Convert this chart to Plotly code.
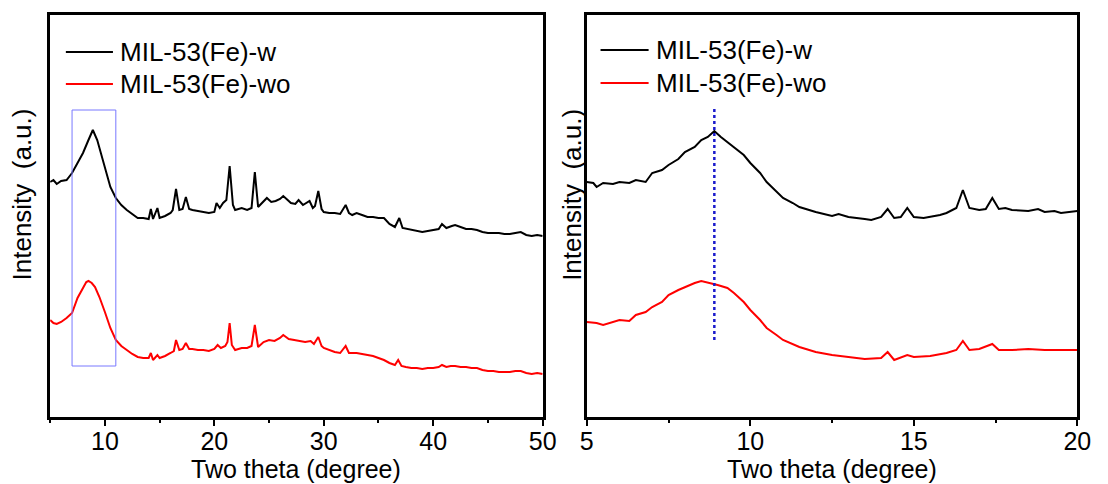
import plotly.graph_objects as go

# ---------------- data ----------------
# Left panel: full range 5-50 degrees
left_x_w = [5.0, 5.3, 5.6, 6.0, 6.5, 7.0, 7.5, 8.0, 8.5, 8.9, 9.3, 9.7, 10.0, 10.5, 11.0, 11.5, 12.0, 12.5,
            13.0, 13.5, 14.0, 14.2, 14.4, 14.8, 15.0, 15.5, 16.0, 16.2, 16.5, 16.8, 17.1, 17.4, 17.7, 18.0,
            18.5, 19.0, 19.5, 20.0, 20.2, 20.5, 20.8, 21.1, 21.4, 21.7, 21.9, 22.5, 23.0, 23.4, 23.7, 24.0,
            24.4, 24.8, 25.2, 25.6, 26.0, 26.3, 26.7, 27.0, 27.4, 27.7, 28.1, 28.4, 28.7, 29.0, 29.2, 29.5,
            29.8, 30.0, 30.5, 31.0, 31.5, 32.0, 32.3, 32.6, 33.0, 33.5, 34.0, 34.5, 35.0, 35.5, 36.0, 36.5,
            36.9, 37.2, 37.6, 38.0, 38.5, 39.0, 39.5, 40.0, 40.5, 40.8, 41.2, 41.7, 42.0, 42.5, 43.0, 43.5,
            44.0, 44.5, 45.0, 45.5, 46.0, 46.5, 47.0, 47.5, 48.0, 48.5, 49.0, 49.5, 50.0]
left_y_w = [235, 237, 233, 236, 237, 244, 254, 264, 277, 287, 277, 262, 250, 230, 219, 212, 207, 203,
            199, 199, 198, 208, 198, 209, 199, 201, 204, 207, 228, 207, 208, 220, 208, 207,
            206, 205, 204, 205, 214, 209, 214, 217, 251, 212, 207, 209, 207, 209, 245, 210,
            215, 219, 215, 216, 218, 221, 217, 214, 213, 217, 212, 214, 216, 209, 211, 226,
            208, 205, 204, 204, 203, 212, 204, 202, 204, 202, 200, 200, 199, 199, 193, 190,
            199, 189, 188, 187, 186, 185, 186, 187, 188, 193, 189, 191, 192, 190, 188, 188,
            187, 185, 184, 184, 184, 183, 183, 184, 185, 182, 181, 182, 181]

left_x_wo = [5.0, 5.3, 5.6, 6.0, 6.5, 7.0, 7.5, 8.0, 8.3, 8.5, 8.8, 9.1, 9.5, 10.0, 10.5, 11.0, 11.5, 12.0,
             12.5, 13.0, 13.5, 14.0, 14.2, 14.4, 14.8, 15.0, 15.5, 16.0, 16.3, 16.5, 16.8, 17.1, 17.4, 17.7,
             18.0, 18.5, 19.0, 19.5, 20.0, 20.3, 20.6, 21.0, 21.2, 21.4, 21.6, 21.9, 22.5, 23.0, 23.4, 23.7,
             24.0, 24.5, 25.0, 25.5, 26.0, 26.3, 26.8, 27.3, 27.8, 28.3, 28.8, 29.1, 29.5, 29.8, 30.0, 30.5,
             31.0, 31.5, 32.0, 32.3, 32.6, 33.0, 33.5, 34.0, 34.5, 35.0, 35.5, 36.0, 36.5, 36.8, 37.1, 37.5,
             38.0, 38.5, 39.0, 39.5, 40.0, 40.5, 40.8, 41.2, 41.6, 42.0, 42.5, 43.0, 43.5, 44.0, 44.5, 45.0,
             45.5, 46.0, 46.5, 47.0, 47.5, 48.0, 48.5, 49.0, 49.5, 50.0]
left_y_wo = [97, 94, 93, 95, 99, 104, 119, 130, 135, 136, 134, 130, 120, 105, 89, 77, 71, 67,
             63, 60, 59, 59, 64, 57, 62, 59, 61, 64, 66, 77, 67, 68, 74, 68,
             68, 67, 67, 66, 68, 72, 69, 71, 75, 94, 72, 67, 69, 69, 71, 92,
             70, 75, 77, 76, 79, 82, 78, 77, 76, 75, 76, 73, 80, 71, 69, 67,
             65, 64, 71, 64, 64, 64, 63, 62, 61, 59, 57, 54, 52, 57, 51, 50,
             49, 49, 48, 49, 49, 50, 52, 50, 51, 51, 50, 50, 49, 49, 47, 46,
             46, 45, 45, 45, 46, 46, 44, 43, 44, 43]

# Right panel: zoom 5-20 degrees
right_x_w = [5.0, 5.2, 5.3, 5.5, 5.8, 6.0, 6.3, 6.5, 6.8, 7.0, 7.3, 7.5, 7.8, 8.0, 8.3, 8.5, 8.7, 8.9,
             9.1, 9.3, 9.5, 9.8, 10.0, 10.3, 10.5, 10.8, 11.0, 11.3, 11.5, 12.0, 12.5, 12.7, 13.0, 13.5,
             13.7, 14.0, 14.2, 14.4, 14.6, 14.8, 15.0, 15.3, 15.5, 15.8, 16.0, 16.3, 16.5, 16.7, 17.0, 17.2,
             17.4, 17.6, 17.8, 18.0, 18.5, 18.8, 19.0, 19.3, 19.5, 19.8, 20.0]
right_y_w = [235, 234, 230, 234, 233, 235, 234, 237, 235, 244, 247, 252, 258, 265, 270, 277, 280, 286,
             280, 275, 270, 262, 254, 244, 235, 225, 219, 214, 210, 205, 201, 203, 200, 198,
             197, 200, 208, 199, 200, 209, 200, 199, 200, 202, 204, 209, 227, 209, 207, 208,
             219, 208, 209, 207, 206, 208, 205, 206, 204, 205, 206]

right_x_wo = [5.0, 5.3, 5.5, 5.8, 6.0, 6.3, 6.5, 6.8, 7.0, 7.3, 7.5, 7.8, 8.0, 8.3, 8.5, 8.8, 9.0, 9.3,
              9.5, 9.8, 10.0, 10.3, 10.5, 10.8, 11.0, 11.5, 12.0, 12.5, 13.0, 13.5, 14.0, 14.2, 14.4, 14.8,
              15.0, 15.5, 16.0, 16.3, 16.5, 16.7, 17.0, 17.4, 17.6, 18.0, 18.5, 19.0, 19.5, 20.0]
right_y_wo = [95, 94, 92, 95, 97, 96, 102, 105, 110, 115, 122, 127, 130, 134, 136, 134, 132, 129,
              124, 115, 107, 97, 89, 82, 77, 70, 65, 62, 60, 58, 59, 65, 57, 62,
              60, 61, 64, 67, 76, 67, 68, 73, 67, 67, 68, 67, 67, 67]

series_names = ["MIL-53(Fe)-w", "MIL-53(Fe)-wo"]
series_colors = ["#000000", "#ff0000"]

left_ticks = [10, 20, 30, 40, 50]
right_ticks = [5, 10, 15, 20]

# highlight box (left) and peak marker (right)
box_x = [7.0, 11.0]
box_y = [51, 307]
peak_x = 8.9
peak_y = [77, 309]

# ---------------- figure ----------------
W, H = 1108, 484
TOP, BOTTOM = 15, 417.5
FONT = "Liberation Sans, Arial, sans-serif"
FS = 25


def px_x(p):
    return p / W


def px_y(p):
    return (BOTTOM - p) / (BOTTOM - TOP)


fig = go.Figure()
panels = [
    ("x", "y", left_x_w, left_y_w, left_x_wo, left_y_wo),
    ("x2", "y2", right_x_w, right_y_w, right_x_wo, right_y_wo),
]
for xa, ya, xw, yw, xwo, ywo in panels:
    fig.add_trace(go.Scatter(x=xw, y=yw, mode="lines", name=series_names[0], xaxis=xa, yaxis=ya,
                             line=dict(color=series_colors[0], width=2), showlegend=False))
    fig.add_trace(go.Scatter(x=xwo, y=ywo, mode="lines", name=series_names[1], xaxis=xa, yaxis=ya,
                             line=dict(color=series_colors[1], width=2), showlegend=False))

axis_common = dict(showline=True, linecolor="black", linewidth=2.5, mirror=True, showgrid=False,
                   zeroline=False, ticks="outside", ticklen=6, tickwidth=2, tickcolor="black",
                   ticklabelstandoff=-6,
                   tickfont=dict(family=FONT, size=FS, color="black"))
yaxis_common = dict(showline=True, linecolor="black", linewidth=2.5, mirror=True, showgrid=False,
                    zeroline=False, ticks="", showticklabels=False, range=[0, 402])

fig.update_layout(
    width=W, height=H,
    margin=dict(l=0, r=0, t=TOP, b=H - BOTTOM),
    plot_bgcolor="white", paper_bgcolor="white",
    xaxis=dict(domain=[px_x(44), px_x(546)], range=[5, 50], tickvals=left_ticks,
               minor=dict(ticks="outside", ticklen=3, tickwidth=2, tickcolor="black", dtick=5, tick0=0),
               **axis_common),
    yaxis=dict(domain=[0, 1], anchor="x", **yaxis_common),
    xaxis2=dict(domain=[px_x(591), px_x(1091)], range=[5, 20], tickvals=right_ticks, anchor="y2",
                minor=dict(ticks="outside", ticklen=3, tickwidth=2, tickcolor="black", dtick=2.5, tick0=0),
                **axis_common),
    yaxis2=dict(domain=[0, 1], anchor="x2", **yaxis_common),
)

# highlight rectangle and dotted peak line
fig.add_shape(type="rect", xref="x", yref="y", x0=box_x[0], x1=box_x[1], y0=box_y[0], y1=box_y[1],
              line=dict(color="#7878ff", width=1))
fig.add_shape(type="line", xref="x2", yref="y2", x0=peak_x, x1=peak_x, y0=peak_y[0], y1=peak_y[1],
              line=dict(color="#1a1acc", width=2.5, dash="dot"))

# manual legends (line samples + labels)
legend_pos = [(60, 108, 113, [52, 84]), (605, 654, 659, [50, 83])]
for (lx0, lx1, tx, rows) in legend_pos:
    for name, color, row in zip(series_names, series_colors, rows):
        fig.add_shape(type="line", xref="paper", yref="paper", x0=px_x(lx0), x1=px_x(lx1),
                      y0=px_y(row), y1=px_y(row), line=dict(color=color, width=2))
        fig.add_annotation(xref="paper", yref="paper", x=px_x(tx), y=px_y(row), text=name,
                           showarrow=False, xanchor="left", yanchor="middle",
                           font=dict(family=FONT, size=26, color="black"))

# y titles
for cx in (15, 576):
    fig.add_annotation(xref="paper", yref="paper", x=px_x(cx), y=px_y(195), text="Intensity  (a.u.)",
                       showarrow=False, textangle=-90, xanchor="center", yanchor="middle",
                       font=dict(family=FONT, size=26, color="black"))

# x titles
for cx in (295, 841):
    fig.add_annotation(xref="paper", yref="paper", x=px_x(cx), y=px_y(470), text="Two theta (degree)",
                       showarrow=False, xanchor="center", yanchor="middle",
                       font=dict(family=FONT, size=FS, color="black"))

fig.write_html("out.html")
